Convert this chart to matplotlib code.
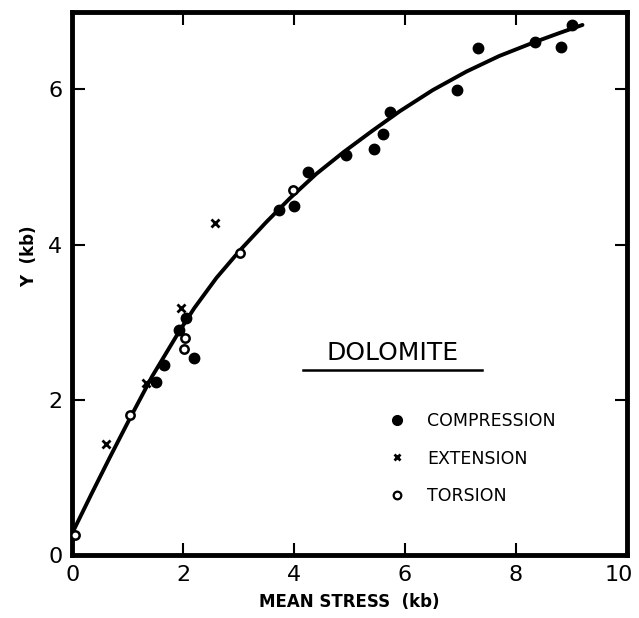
import numpy as np
import matplotlib
matplotlib.use("Agg")
import matplotlib.pyplot as plt
import matplotlib.transforms as mtrans
from matplotlib.lines import Line2D

# Data (mean stress in kb, Y in kb)
comp_x = [1.51, 1.65, 1.92, 2.05, 2.19, 3.73, 3.99, 4.26, 4.93, 5.44, 5.60, 5.73, 6.94, 7.31, 8.34, 8.82, 9.01]
comp_y = [2.23, 2.45, 2.90, 3.05, 2.54, 4.45, 4.50, 4.94, 5.15, 5.23, 5.43, 5.71, 5.99, 6.53, 6.61, 6.54, 6.83]

ext_x = [0.61, 1.33, 1.96, 2.58]
ext_y = [1.43, 2.21, 3.18, 4.28]

tors_x = [0.05, 1.04, 2.04, 2.02, 3.03, 3.98]
tors_y = [0.26, 1.80, 2.79, 2.66, 3.89, 4.70]

# hand-drawn trend curve, read at points along its length
curve_x = [0.0, 0.35, 0.68, 1.04, 1.44, 1.92, 2.2, 2.6, 3.03, 3.5, 3.93, 4.4, 4.89,
           5.4, 5.91, 6.5, 7.11, 7.7, 8.34, 8.8, 9.2]
curve_y = [0.28, 0.79, 1.26, 1.76, 2.30, 2.87, 3.18, 3.57, 3.93, 4.29, 4.60, 4.91, 5.19,
           5.46, 5.72, 5.99, 6.23, 6.43, 6.61, 6.73, 6.83]

x_ticks = [0, 2, 4, 6, 8, 10]
y_ticks = [0, 2, 4, 6]

fig = plt.figure(figsize=(6.39, 6.18), dpi=100)
ax = fig.add_axes([0.113, 0.102, 0.868, 0.879])

ax.plot(curve_x, curve_y, color="black", lw=2.8, solid_capstyle="round",
        solid_joinstyle="round", zorder=2)
ax.plot(comp_x, comp_y, "o", color="black", ms=7.5, zorder=3)
ax.plot(ext_x, ext_y, "x", color="black", ms=6, mew=2, zorder=3)
ax.plot(tors_x, tors_y, "o", mfc="white", mec="black", ms=6, mew=1.8, zorder=3)

ax.set_xlim(0, 10)
ax.set_ylim(0, 7)
ax.set_xticks(x_ticks)
ax.set_yticks(y_ticks)
ax.tick_params(direction="in", length=9, width=1.5, labelsize=16, pad=7,
               top=True, right=True)
for s in ax.spines.values():
    s.set_linewidth(3.5)

# pull the "10" label a little left so it stays inside the figure
last = ax.get_xticklabels()[-1]
last.set_transform(last.get_transform() +
                   mtrans.ScaledTranslation(-8 / 100, 0, fig.dpi_scale_trans))

ax.set_xlabel("MEAN STRESS  (kb)", fontsize=12, fontweight="bold", labelpad=6)
ax.set_ylabel("Y  (kb)", fontsize=12, fontweight="bold")
ax.yaxis.set_label_coords(-0.062, 0.55)

# title inside plot with underline
ax.text(0.577, 0.372, "DOLOMITE", transform=ax.transAxes, ha="center", va="center",
        fontsize=18)
ax.plot([0.416, 0.739], [0.341, 0.341], transform=ax.transAxes, color="black", lw=1.8)

handles = [
    Line2D([], [], ls="none", marker="o", color="black", ms=7),
    Line2D([], [], ls="none", marker="x", color="black", ms=5, mew=2),
    Line2D([], [], ls="none", marker="o", mfc="white", mec="black", ms=5.5, mew=1.6),
]
labels = ["COMPRESSION", "EXTENSION", "TORSION"]
ax.legend(handles, labels, loc="upper left", bbox_to_anchor=(0.554, 0.279),
          frameon=False, fontsize=12.5, handlelength=1, handletextpad=1.25,
          labelspacing=1.12, borderpad=0)

fig.savefig("out.png", dpi=100)
